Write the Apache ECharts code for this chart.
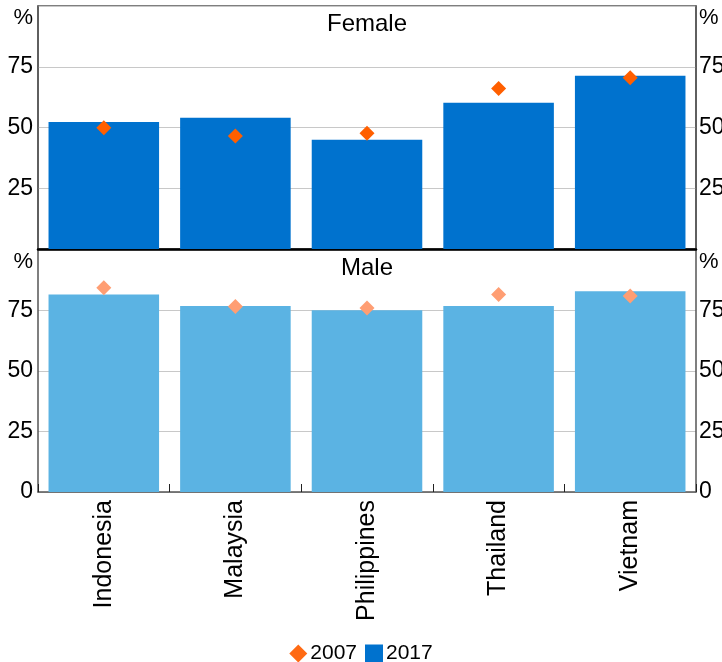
<!DOCTYPE html>
<html>
<head>
<meta charset="utf-8">
<title>Female and Male</title>
<script src="https://cdn.jsdelivr.net/npm/echarts@6/dist/echarts.min.js"></script>
<style>
	html, body { margin: 0; padding: 0; background: #fff; }
	#chart { width: 722px; height: 662px; }
</style>
</head>
<body>
<div id="chart"></div>
<script>
	// categories
	const countries = ['Indonesia', 'Malaysia', 'Philippines', 'Thailand', 'Vietnam']
	// female, %
	const female2017 = [52.3, 54.0, 45.0, 60.2, 71.3]
	const female2007 = [49.9, 46.5, 47.6, 66.1, 70.5]
	// male, %
	const male2017 = [81.6, 76.9, 75.1, 76.9, 83.0]
	const male2007 = [84.4, 76.7, 76.0, 81.6, 81.0]
	const yTicks = [0, 25, 50, 75, 100]

	const font = 'Liberation Sans, Arial, sans-serif'
	const gridLine = '#c8c8c8'
	const axisGray = '#555'

	function yAxis(gridIndex, side, hideZero) {
		return {
			type: 'value',
			gridIndex: gridIndex,
			position: side,
			min: yTicks[0],
			max: yTicks[yTicks.length - 1],
			interval: 25,
			axisLine: { show: true, lineStyle: { color: axisGray, width: 1.5 } },
			axisTick: { show: false },
			axisLabel: {
				margin: side === 'left' ? 5 : 3,
				fontSize: 23,
				fontFamily: font,
				color: '#000',
				formatter: v => (v === 100 || (hideZero && v === 0)) ? '' : String(v)
			},
			splitLine: { show: side === 'left', lineStyle: { color: gridLine, width: 1 } }
		}
	}

	function pctText(x, y, align) {
		return {
			type: 'text', x: x, y: y,
			style: { text: '%', font: '22px ' + font, fill: '#000', align: align, verticalAlign: 'middle' }
		}
	}

	const option = {
		animation: false,
		textStyle: { fontFamily: font },
		grid: [
			{ left: 38, right: 26, top: 6, height: 243, outerBoundsMode: 'none', show: true, borderColor: axisGray, borderWidth: 1.5 },
			{ left: 38, right: 26, top: 250, height: 242, outerBoundsMode: 'none' }
		],
		xAxis: [
			{
				type: 'category', gridIndex: 0, data: countries,
				axisLine: { lineStyle: { color: '#000', width: 2.5 } },
				axisTick: { show: false },
				axisLabel: { show: false }
			},
			{
				type: 'category', gridIndex: 1, data: countries,
				axisLine: { lineStyle: { color: axisGray, width: 1.5 } },
				axisTick: { show: true, inside: true, length: 8, lineStyle: { color: '#222' } },
				axisLabel: { rotate: 90, margin: 8, fontSize: 25, fontFamily: font, color: '#000' }
			}
		],
		yAxis: [
			yAxis(0, 'left', true),
			yAxis(0, 'right', true),
			yAxis(1, 'left', false),
			yAxis(1, 'right', false)
		],
		legend: {
			top: 638,
			left: 'center',
			itemWidth: 18,
			itemHeight: 18,
			itemGap: 8,
			textStyle: { fontSize: 21, fontFamily: font, color: '#000', padding: [0, 0, 0, -2] },
			data: [
				{ name: '2007', icon: 'diamond', itemStyle: { color: '#ff6a13' } },
				{ name: '2017', icon: 'rect', itemStyle: { color: '#0072ce' } }
			]
		},
		graphic: [
			{
				type: 'text', x: 367, y: 24,
				style: { text: 'Female', font: '24px ' + font, fill: '#000', align: 'center', verticalAlign: 'middle' }
			},
			{
				type: 'text', x: 367, y: 268,
				style: { text: 'Male', font: '24px ' + font, fill: '#000', align: 'center', verticalAlign: 'middle' }
			},
			pctText(33, 18, 'right'),
			pctText(699, 18, 'left'),
			pctText(33, 262, 'right'),
			pctText(699, 262, 'left')
		],
		series: [
			{
				name: '2017', type: 'bar', xAxisIndex: 0, yAxisIndex: 0,
				barCategoryGap: '16%',
				itemStyle: { color: '#0072ce' },
				data: female2017
			},
			{
				name: '2007', type: 'scatter', xAxisIndex: 0, yAxisIndex: 0,
				symbol: 'diamond', symbolSize: 15,
				itemStyle: { color: '#ff5f00', opacity: 1 },
				data: female2007
			},
			{
				name: 'Male 2017', type: 'bar', xAxisIndex: 1, yAxisIndex: 2,
				barCategoryGap: '16%',
				itemStyle: { color: '#5bb3e3' },
				data: male2017
			},
			{
				name: 'Male 2007', type: 'scatter', xAxisIndex: 1, yAxisIndex: 2,
				symbol: 'diamond', symbolSize: 15,
				itemStyle: { color: '#ff9e73', opacity: 1 },
				data: male2007
			}
		]
	}

	let Echarts = echarts.init(document.getElementById('chart'))
	Echarts.setOption(option)
	window.onresize = () => {
		Echarts.resize()
	}
</script>
</body>
</html>
